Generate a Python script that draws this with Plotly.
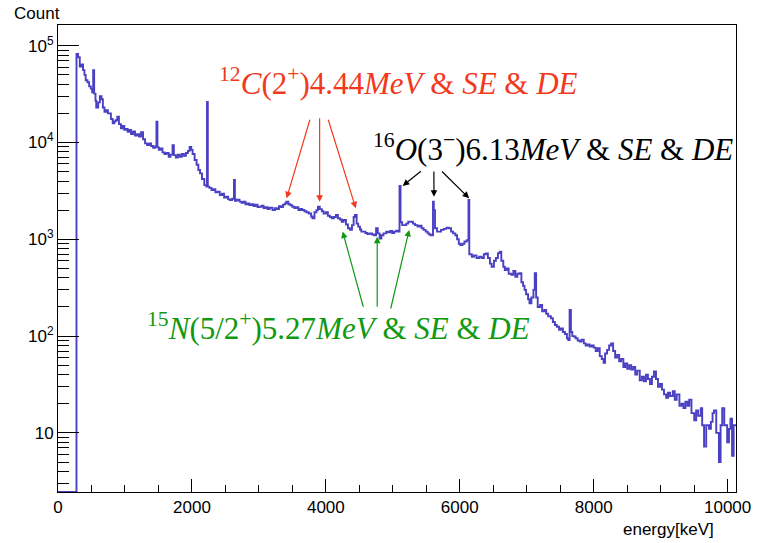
import math
import plotly.graph_objects as go

# ---------------- data ----------------
# lower bin edges [keV] and counts of a gamma-ray energy histogram
bin_low_edges = [
    0, 276, 300, 325, 350, 374, 395, 413, 440, 465, 490, 510, 525, 540, 560, 571,
    600, 625, 650, 670, 694, 720, 745, 767, 790, 817, 840, 860, 885, 910, 940, 965,
    990, 1015, 1040, 1063, 1090, 1120, 1150, 1180, 1210, 1240, 1270, 1300, 1330, 1360,
    1390, 1420, 1450, 1470, 1485, 1506, 1530, 1560, 1590, 1620, 1653, 1680, 1710, 1730,
    1760, 1790, 1820, 1850, 1880, 1910, 1940, 1965, 1990, 2010, 2040, 2070, 2096, 2121,
    2150, 2185, 2215, 2225, 2237, 2260, 2292, 2320, 2350, 2380, 2416, 2450, 2480, 2510,
    2540, 2563, 2600, 2628, 2642, 2670, 2711, 2740, 2770, 2800, 2830, 2858, 2890, 2920,
    2950, 2980, 3006, 3040, 3070, 3100, 3130, 3160, 3203, 3240, 3270, 3300, 3330, 3360,
    3390, 3410, 3440, 3470, 3498, 3530, 3560, 3590, 3620, 3646, 3680, 3710, 3745, 3780,
    3800, 3830, 3860, 3882, 3910, 3940, 3966, 4000, 4030, 4060, 4089, 4120, 4150, 4180,
    4210, 4237, 4265, 4300, 4330, 4360, 4390, 4415, 4434, 4460, 4483, 4510, 4530, 4557,
    4590, 4620, 4655, 4690, 4720, 4750, 4775, 4803, 4830, 4860, 4901, 4930, 4960, 4990,
    5020, 5050, 5080, 5100, 5115, 5140, 5172, 5200, 5230, 5270, 5300, 5330, 5369, 5400,
    5430, 5460, 5491, 5520, 5545, 5565, 5600, 5612, 5630, 5660, 5688, 5720, 5760, 5800,
    5835, 5870, 5900, 5934, 5960, 5985, 6008, 6040, 6070, 6106, 6130, 6142, 6180, 6210,
    6250, 6290, 6327, 6360, 6390, 6420, 6450, 6475, 6510, 6540, 6570, 6598, 6620, 6650,
    6672, 6700, 6730, 6770, 6800, 6830, 6860, 6893, 6920, 6945, 6967, 6990, 7020, 7041,
    7070, 7100, 7120, 7140, 7164, 7200, 7230, 7262, 7290, 7320, 7360, 7390, 7420, 7450,
    7483, 7510, 7540, 7570, 7600, 7620, 7640, 7660, 7680, 7705, 7730, 7760, 7790, 7820,
    7852, 7880, 7910, 7940, 7970, 8000, 8030, 8060, 8090, 8120, 8148, 8170, 8200, 8230,
    8260, 8290, 8320, 8350, 8380, 8410, 8443, 8470, 8500, 8530, 8560, 8590, 8620, 8650,
    8688, 8720, 8750, 8780, 8810, 8840, 8870, 8900, 8930, 8960, 8990, 9020, 9050, 9082,
    9110, 9140, 9181, 9210, 9240, 9280, 9310, 9340, 9370, 9400, 9427, 9460, 9501, 9530,
    9560, 9599, 9620, 9648, 9680, 9722, 9750, 9775, 9796, 9830, 9870, 9895, 9919, 9950,
    9993, 10020, 10042, 10066, 10090, 10115,
]
counts = [
    0, 82000, 76000, 61000, 64000, 56000, 50000, 44000, 42000, 38000, 36000, 33000, 56000, 32000, 27000, 23000,
    26000, 30000, 28000, 23000, 20800, 21500, 20000, 20000, 17500, 15800, 16500, 17000, 18500, 15500, 14000, 14800,
    13500, 13800, 12900, 13500, 12200, 13000, 11800, 12200, 11500, 12800, 10800, 9800, 9400, 9800,
    9200, 8800, 9100, 16400, 8900, 8400, 8700, 7900, 7600, 7800, 7130, 7500, 9400, 7400,
    7000, 7500, 7100, 7600, 7300, 7800, 8200, 9000, 8400, 7600, 6600, 5900, 5200, 4800,
    4200, 3630, 3500, 26300, 3500, 3400, 3230, 3300, 3050, 3100, 2870, 2950, 2700, 2750,
    2600, 2550, 2620, 4100, 2500, 2560, 2450, 2380, 2440, 2300, 2350, 2260, 2300, 2200,
    2280, 2150, 2170, 2230, 2100, 2150, 2050, 2120, 2010, 2100, 2050, 2200, 2150, 2280,
    2350, 2450, 2300, 2250, 2170, 2100, 2150, 2000, 2060, 2010, 1950, 1900, 1850, 1720,
    1650, 1900, 2000, 2170, 2050, 1950, 1850, 1900, 1750, 1700, 1650, 1700, 1780, 1650,
    1600, 1520, 1580, 1420, 1300, 1250, 1400, 1700, 1780, 1450, 1350, 1260, 1200, 1200,
    1160, 1130, 1150, 1120, 1100, 1300, 1150, 1020, 1100, 1150, 1200, 1180, 1220, 1160,
    1200, 1230, 1200, 3560, 1500, 1400, 1400, 1450, 1520, 1520, 1450, 1400, 1350, 1380,
    1300, 1250, 1200, 1150, 1120, 1100, 2450, 2000, 1300, 1200, 1200, 1250, 1280, 1320,
    1300, 1200, 1150, 1100, 1000, 900, 870, 900, 950, 980, 2550, 700, 660, 680,
    640, 660, 640, 700, 716, 640, 560, 520, 600, 640, 720, 745, 600, 520,
    480, 500, 440, 430, 470, 410, 440, 445, 360, 330, 300, 270, 240, 218,
    250, 300, 445, 250, 200, 210, 180, 186, 170, 160, 153, 140, 130, 125,
    116, 120, 110, 105, 95, 91, 186, 110, 100, 99, 95, 90, 88, 92,
    84, 80, 82, 78, 80, 76, 70, 75, 62, 58, 53, 66, 72, 80,
    84, 70, 60, 64, 55, 58, 48, 52, 46, 50, 45, 48, 40, 44,
    35, 38, 34, 40, 36, 32, 38, 43, 36, 30, 32, 28, 25, 23,
    26, 24, 27, 22, 25, 19, 20, 18, 21, 19, 22, 16, 13.5, 17,
    15, 18, 12, 7.2, 12, 11, 13, 16, 17, 10, 5, 12, 18, 12,
    8, 11, 14, 5.8, 12, 12,
]
x_max = 10125
y_range_log = [0.389, 5.214]

# tick labels
x_tick_vals = [0, 2000, 4000, 6000, 8000, 10000]
x_tick_text = ["0", "2000", "4000", "6000", "8000", "10000"]
y_tick_vals = [10, 100, 1000, 10000, 100000]
y_tick_text = ["10", "10<sup>2</sup>", "10<sup>3</sup>", "10<sup>4</sup>", "10<sup>5</sup>"]
y_minor_vals = [m * 10 ** d for d in range(0, 6) for m in range(2, 10)
                if 10 ** y_range_log[0] <= m * 10 ** d <= 10 ** y_range_log[1]]
x_minor_vals = [v for v in range(0, x_max + 1, 500) if v % 2000 != 0]

# annotation arrows: (head energy, head count, tail energy, tail count)
c12_arrows = [(3414, 2650, 3768, 17800), (3907, 2440, 3907, 18500), (4447, 2090, 4029, 17800)]
o16_arrows = [(5147, 3560, 5442, 5200), (5615, 2750, 5613, 5200), (6140, 2650, 5712, 5200)]
n15_arrows = [(4251, 1200, 4565, 194), (4767, 1064, 4767, 194), (5244, 1250, 4964, 186)]

labels = [
    ("<sup>12</sup><i>C</i>(2<sup>+</sup>)4.44<i>MeV</i> &amp; <i>SE</i> &amp; <i>DE</i>", 5080, 43000, "#f2391c"),
    ("<sup>16</sup><i>O</i>(3<sup>−</sup>)6.13<i>MeV</i> &amp; <i>SE</i> &amp; <i>DE</i>", 7387, 8900, "#000000"),
    ("<sup>15</sup><i>N</i>(5/2<sup>+</sup>)5.27<i>MeV</i> &amp; <i>SE</i> &amp; <i>DE</i>", 4184, 127, "#119911"),
]

SANS = "Liberation Sans"
SERIF = "Liberation Serif"

# ---------------- figure ----------------
ymin_val = 10 ** y_range_log[0]
xs = bin_low_edges + [x_max]
ys = [max(c, ymin_val) for c in counts] + [max(counts[-1], ymin_val)]

fig = go.Figure()
fig.add_trace(go.Scatter(
    x=xs, y=ys, mode="lines", line=dict(color="#4a40c2", width=1.9, shape="hv"),
    hoverinfo="skip", showlegend=False,
))
# invisible helper trace carrying the minor-tick axes
fig.add_trace(go.Scatter(x=[xs[1]], y=[ys[1]], xaxis="x2", yaxis="y2", mode="markers",
                         marker=dict(opacity=0), hoverinfo="skip", showlegend=False))

axis_font = dict(family=SANS, size=17, color="black")

fig.update_layout(
    width=763, height=543,
    margin=dict(l=58, r=19, t=25, b=51, pad=0),
    paper_bgcolor="white", plot_bgcolor="white",
    font=axis_font,
    hovermode=False,
    xaxis=dict(
        range=[0, x_max], tickmode="array", tickvals=x_tick_vals, ticktext=x_tick_text,
        ticks="inside", ticklen=13, tickwidth=1, tickcolor="black",
        showline=True, linecolor="black", linewidth=1, mirror=True,
        showgrid=False, zeroline=False, tickfont=axis_font,
    ),
    xaxis2=dict(
        range=[0, x_max], overlaying="x", side="bottom", anchor="y2",
        tickmode="array", tickvals=x_minor_vals, showticklabels=False,
        ticks="inside", ticklen=7, tickwidth=1, tickcolor="black",
        showline=False, showgrid=False, zeroline=False,
    ),
    yaxis=dict(
        type="log", range=y_range_log, tickmode="array",
        tickvals=y_tick_vals, ticktext=y_tick_text,
        ticks="inside", ticklen=21, tickwidth=1, tickcolor="black",
        showline=True, linecolor="black", linewidth=1, mirror=True,
        showgrid=False, zeroline=False, tickfont=axis_font,
    ),
    yaxis2=dict(
        type="log", range=y_range_log, overlaying="y", side="left", anchor="x2",
        tickmode="array", tickvals=y_minor_vals, showticklabels=False,
        ticks="inside", ticklen=11, tickwidth=1, tickcolor="black",
        showline=False, showgrid=False, zeroline=False,
    ),
)

annotations = []
for arrows, color in ((c12_arrows, "#f2391c"), (o16_arrows, "#000000"), (n15_arrows, "#119911")):
    for hx, hy, tx, ty in arrows:
        annotations.append(dict(
            x=hx, y=math.log10(hy), ax=tx, ay=math.log10(ty),
            xref="x", yref="y", axref="x", ayref="y",
            text="", showarrow=True, arrowhead=2, arrowsize=1.1, arrowwidth=1.2,
            arrowcolor=color, standoff=0,
        ))
for text, ex, cy, color in labels:
    annotations.append(dict(
        x=ex, y=math.log10(cy), xref="x", yref="y", text=text, showarrow=False,
        xanchor="center", yanchor="middle",
        font=dict(family=SERIF, size=31, color=color),
    ))

annotations.append(dict(text="Count", xref="paper", yref="paper", x=-0.068, y=1.0,
                        xanchor="left", yanchor="bottom", showarrow=False,
                        font=dict(family=SANS, size=17, color="black")))
annotations.append(dict(text="energy[keV]", xref="paper", yref="paper", x=0.9705, y=-0.055,
                        xanchor="right", yanchor="top", showarrow=False,
                        font=dict(family=SANS, size=17, color="black")))
fig.update_layout(annotations=annotations)

fig.write_html("out.html", config={"displayModeBar": False, "staticPlot": True},
               post_script="document.body.style.margin='0';document.body.style.overflow='hidden';")
